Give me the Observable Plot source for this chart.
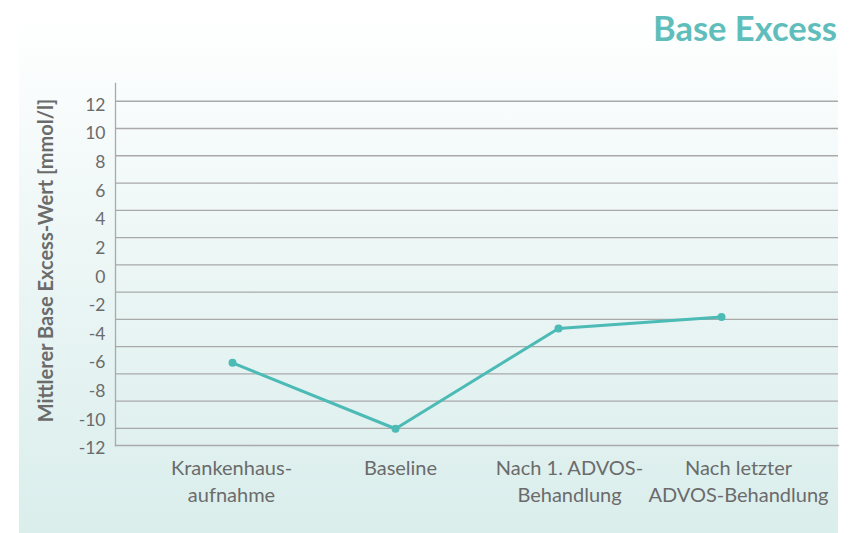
<!DOCTYPE html>
<html><head><meta charset="utf-8">
<script src="https://cdn.jsdelivr.net/npm/d3@7"></script>
<script src="https://cdn.jsdelivr.net/npm/@observablehq/plot@0.6"></script>
<style>
body{margin:0;background:#fff;}
#wrap{position:relative;width:855px;height:533px;overflow:hidden;font-family:Lato,"Noto Sans",sans-serif;}
#panel{position:absolute;left:19px;top:14px;width:819px;height:519px;background:linear-gradient(to bottom,#ffffff 0%,#e9f5f4 55%,#daeeec 100%);}
#title{position:absolute;right:18px;top:6px;font-family:Lato,sans-serif;font-weight:700;font-size:34.5px;color:#5fbebb;line-height:44px;}
.layer{position:absolute;left:0;top:0;}
</style></head>
<body><div id="wrap"><div id="panel"></div><div id="title">Base Excess</div></div>
<script>
const categories = ["Krankenhaus-\naufnahme", "Baseline", "Nach 1. ADVOS-\nBehandlung", "Nach letzter\nADVOS-Behandlung"];
const baseExcess = [-6.0, -10.6, -3.6, -2.8];
const yTicks = [12, 10, 8, 6, 4, 2, 0, -2, -4, -6, -8, -10, -12];
const yTitle = "Mittlerer Base Excess-Wert [mmol/l]";

const textGray = "#6b6b6b";
const teal = "#4cbab5";

const data = categories.map((c, i) => ({category: c, value: baseExcess[i]}));

// Layer 1: grid, axis lines, category labels, y title
const grid = Plot.plot({
  width: 855, height: 533,
  marginLeft: 115, marginRight: 17, marginTop: 83, marginBottom: 88,
  style: {background: "transparent", fontFamily: "Lato, sans-serif", color: textGray},
  x: {type: "point", domain: categories, range: [230, 738], padding: 0, axis: null},
  y: {domain: [-13.25, 13.3], axis: null},
  marks: [
    Plot.ruleY(yTicks, {stroke: "#a9a9a9", strokeWidth: 1.3}),
    Plot.frame({anchor: "bottom", stroke: "#aaaaaa", strokeWidth: 1.3}),
    Plot.frame({anchor: "left", stroke: "#aaaaaa", strokeWidth: 1.3}),
    Plot.axisX({anchor: "bottom", tickSize: 0, tickPadding: 10.5, fontSize: 20, lineHeight: 1.34, fill: textGray, label: null}),
    Plot.text([yTitle], {frameAnchor: "left", textAnchor: "middle", lineAnchor: "middle", rotate: -90, dx: -69, dy: -4, fontSize: 20, fontWeight: 700, fill: textGray})
  ]
});
grid.classList.add("layer");

// Layer 2: y tick labels and the data line
const chart = Plot.plot({
  width: 855, height: 533,
  marginLeft: 115, marginRight: 17, marginTop: 104.5, marginBottom: 84.7,
  style: {background: "transparent", fontFamily: "Lato, sans-serif", color: textGray},
  x: {type: "point", domain: categories, range: [232, 721], padding: 0, axis: null},
  y: {domain: [-12, 12], axis: null},
  marks: [
    Plot.axisY(yTicks, {anchor: "left", tickSize: 0, tickPadding: 10, fontSize: 17.5, fill: textGray, label: null, tickFormat: d => String(d)}),
    Plot.line(data, {x: "category", y: "value", stroke: teal, strokeWidth: 3}),
    Plot.dot(data, {x: "category", y: "value", r: 4, fill: teal})
  ]
});
chart.classList.add("layer");

const wrap = document.getElementById("wrap");
wrap.appendChild(grid);
wrap.appendChild(chart);
</script></body></html>
